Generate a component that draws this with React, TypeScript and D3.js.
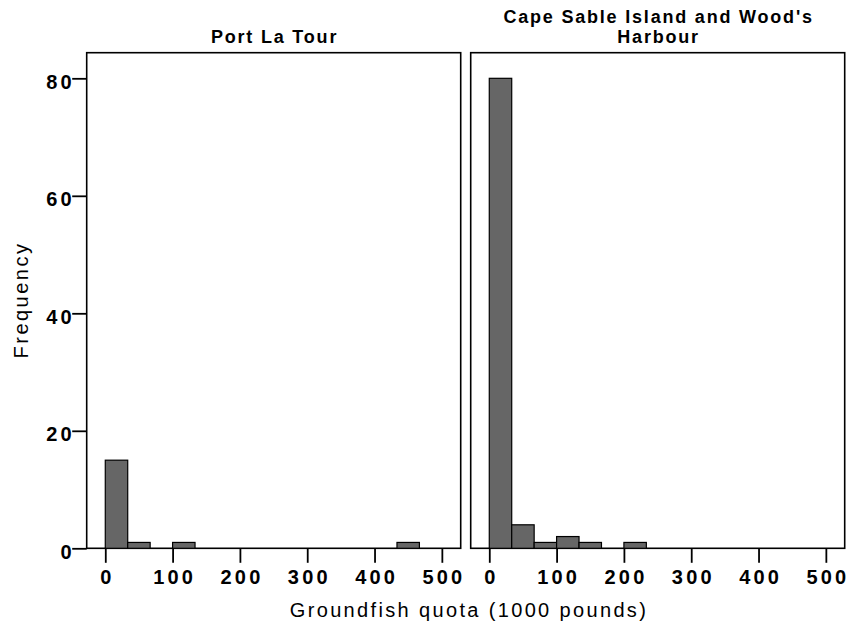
import React, { useEffect, useRef } from 'react';
import * as d3 from 'd3';

// histogram bins (1000 pounds), width of each bin = 100/3
const binWidth = 100 / 3;
const portLaTourBinStarts = [0, 33.33, 100, 433.33];
const portLaTourCounts = [15, 1, 1, 1];
const capeSableBinStarts = [0, 33.33, 66.67, 100, 133.33, 200];
const capeSableCounts = [80, 4, 1, 2, 1, 1];

const panelTitles = [['Port La Tour'], ["Cape Sable Island and Wood's", 'Harbour']];
const xTicks = [0, 100, 200, 300, 400, 500];
const yTicks = [0, 20, 40, 60, 80];

const width = 849;
const height = 626;
const frameTop = 52.7;
const frameBottom = 548.3;
const panelLefts = [86.7, 470.7];
const panelWidth = 374;
const tickSpacing = 3.2;

const App = () => {
  const svgRef = useRef<SVGSVGElement | null>(null);

  useEffect(() => {
    const svg = d3.select(svgRef.current);
    svg.selectAll('*').remove();

    const yScale = d3.scaleLinear().domain([0, 84.36]).range([frameBottom, frameTop]);

    const panels = [
      { starts: portLaTourBinStarts, counts: portLaTourCounts, title: panelTitles[0] },
      { starts: capeSableBinStarts, counts: capeSableCounts, title: panelTitles[1] },
    ];

    panels.forEach((p, i) => {
      const left = panelLefts[i];
      const xScale = d3.scaleLinear().domain([-27.6, 528]).range([left, left + panelWidth]);

      // frame
      svg.append('rect')
        .attr('x', left)
        .attr('y', frameTop)
        .attr('width', panelWidth)
        .attr('height', frameBottom - frameTop)
        .attr('fill', 'none')
        .attr('stroke', '#000')
        .attr('stroke-width', 1.6);

      // bars
      const bins = p.starts.map((s, j) => ({ x0: s, x1: s + binWidth, n: p.counts[j] }));
      svg.append('g').selectAll('rect')
        .data(bins)
        .join('rect')
        .attr('x', d => xScale(d.x0))
        .attr('y', d => yScale(d.n))
        .attr('width', d => xScale(d.x1) - xScale(d.x0))
        .attr('height', d => yScale(0) - yScale(d.n))
        .attr('fill', '#666666')
        .attr('stroke', '#000')
        .attr('stroke-width', 1.2);

      // x axis
      const gx = svg.append('g')
        .attr('transform', `translate(0,${frameBottom})`)
        .call(d3.axisBottom(xScale).tickValues(xTicks).tickSize(14.5).tickPadding(7));
      gx.select('.domain').remove();
      gx.selectAll('line').attr('stroke', '#000').attr('stroke-width', 1.8);
      gx.selectAll('text')
        .attr('fill', '#000')
        .attr('dx', tickSpacing / 2)
        .style('font-family', 'Liberation Sans, Arial, sans-serif')
        .style('font-size', '20px')
        .style('font-weight', 'bold')
        .style('letter-spacing', `${tickSpacing}px`);

      // title
      const t = svg.append('text')
        .attr('text-anchor', 'middle')
        .style('font-family', 'Liberation Sans, Arial, sans-serif')
        .style('font-size', '18px')
        .style('font-weight', 'bold')
        .style('letter-spacing', '1.8px');
      p.title.forEach((line, k) => {
        t.append('tspan')
          .attr('x', left + panelWidth / 2 + 0.9)
          .attr('y', p.title.length === 1 ? 42.7 : 23 + k * 19.7)
          .text(line);
      });
    });

    // y axis on the left panel only
    const gy = svg.append('g')
      .attr('transform', `translate(${panelLefts[0]},0)`)
      .call(d3.axisLeft(yScale).tickValues(yTicks).tickSize(14.5).tickPadding(0));
    gy.select('.domain').remove();
    gy.selectAll('line').attr('stroke', '#000').attr('stroke-width', 1.8);
    gy.selectAll('text')
      .attr('fill', '#000')
      .attr('dx', tickSpacing - 0.5)
      .attr('dy', '0.5em')
      .style('font-family', 'Liberation Sans, Arial, sans-serif')
      .style('font-size', '20px')
      .style('font-weight', 'bold')
      .style('letter-spacing', `${tickSpacing}px`);

    // axis titles
    svg.append('text')
      .attr('transform', `translate(28,300) rotate(-90)`)
      .attr('text-anchor', 'middle')
      .style('font-family', 'Liberation Sans, Arial, sans-serif')
      .style('font-size', '20px')
      .style('letter-spacing', '2.5px')
      .text('Frequency');

    svg.append('text')
      .attr('x', 469)
      .attr('y', 617)
      .attr('text-anchor', 'middle')
      .style('font-family', 'Liberation Sans, Arial, sans-serif')
      .style('font-size', '20px')
      .style('letter-spacing', '2.35px')
      .text('Groundfish quota (1000 pounds)');
  }, []);

  return (
    <svg
      ref={svgRef}
      width={width}
      height={height}
      style={{ position: 'absolute', left: 0, top: 0, background: '#fff' }}
    />
  );
};

export default App;
